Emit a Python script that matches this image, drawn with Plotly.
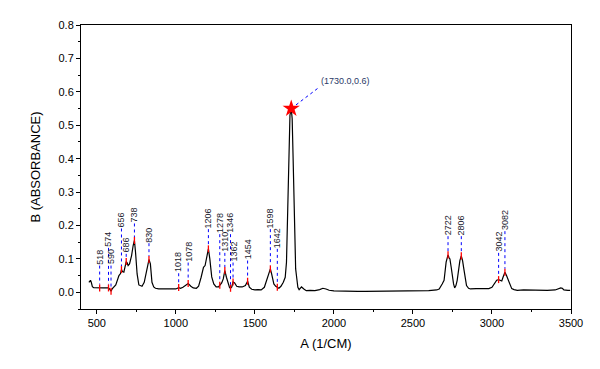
import numpy as np
import plotly.graph_objects as go

# ---------------- data ----------------
wavenumber = [450, 455, 460, 465, 472, 480, 500, 518, 540, 560, 574, 584, 590, 597, 610, 620,
              640, 650, 656, 662, 671, 680, 686, 692, 698, 707, 720, 730, 738, 745, 755, 766,
              786, 800, 815, 822, 830, 839, 849, 860, 871, 892, 950, 1000, 1018, 1030, 1045,
              1060, 1078, 1095, 1110, 1130, 1144, 1160, 1175, 1185, 1195, 1206, 1215, 1227,
              1240, 1255, 1270, 1278, 1290, 1300, 1310, 1320, 1330, 1340, 1346, 1354, 1362,
              1372, 1385, 1400, 1420, 1440, 1454, 1465, 1480, 1500, 1520, 1540, 1560, 1575,
              1590, 1598, 1606, 1620, 1632, 1642, 1652, 1665, 1680, 1692, 1700, 1708, 1716,
              1722, 1730, 1736, 1742, 1750, 1758, 1765, 1772, 1780, 1795, 1810, 1825, 1850,
              1880, 1910, 1930, 1950, 1970, 2000, 2050, 2100, 2150, 2200, 2300, 2400, 2500,
              2600, 2650, 2666, 2685, 2697, 2710, 2716, 2722, 2728, 2734, 2742, 2749, 2757,
              2764, 2772, 2780, 2790, 2797, 2806, 2814, 2822, 2830, 2839, 2852, 2864, 2900,
              2950, 2980, 3000, 3015, 3030, 3042, 3052, 3062, 3070, 3082, 3092, 3103, 3115,
              3125, 3140, 3160, 3200, 3250, 3300, 3350, 3400, 3420, 3435, 3445, 3455, 3480,
              3495]
absorbance = [0.030, 0.034, 0.036, 0.030, 0.017, 0.014, 0.013, 0.013, 0.013, 0.013, 0.013,
              0.008, 0.003, 0.010, 0.018, 0.022, 0.050, 0.056, 0.068, 0.062, 0.060, 0.075,
              0.092, 0.088, 0.080, 0.085, 0.110, 0.140, 0.155, 0.120, 0.055, 0.022, 0.018,
              0.030, 0.070, 0.088, 0.098, 0.085, 0.030, 0.016, 0.012, 0.010, 0.010, 0.010,
              0.014, 0.012, 0.015, 0.020, 0.026, 0.018, 0.013, 0.012, 0.018, 0.045, 0.075,
              0.080, 0.105, 0.130, 0.100, 0.046, 0.025, 0.016, 0.016, 0.021, 0.028, 0.040,
              0.065, 0.045, 0.025, 0.014, 0.012, 0.016, 0.031, 0.028, 0.018, 0.016, 0.016,
              0.020, 0.033, 0.015, 0.009, 0.007, 0.008, 0.007, 0.015, 0.035, 0.060, 0.070,
              0.055, 0.025, 0.018, 0.015, 0.012, 0.018, 0.030, 0.045, 0.090, 0.250, 0.450,
              0.530, 0.550, 0.520, 0.400, 0.200, 0.070, 0.042, 0.015, 0.008, 0.016, 0.010,
              0.005, 0.006, 0.005, 0.008, 0.012, 0.010, 0.006, 0.004, 0.003, 0.002, 0.003,
              0.003, 0.003, 0.004, 0.004, 0.005, 0.007, 0.010, 0.025, 0.036, 0.090, 0.105,
              0.112, 0.104, 0.100, 0.075, 0.046, 0.025, 0.013, 0.020, 0.036, 0.070, 0.095,
              0.109, 0.095, 0.070, 0.040, 0.020, 0.012, 0.010, 0.011, 0.011, 0.011, 0.015,
              0.025, 0.036, 0.038, 0.036, 0.034, 0.045, 0.060, 0.050, 0.036, 0.020, 0.011,
              0.008, 0.006, 0.007, 0.006, 0.006, 0.006, 0.007, 0.010, 0.013, 0.012, 0.007,
              0.006, 0.006]

peak_wn = [518, 574, 590, 656, 686, 738, 830, 1018, 1078, 1206, 1278, 1310, 1346, 1362,
           1454, 1598, 1642, 2722, 2806, 3042, 3082]
# height (absorbance units) of the bottom of each rotated peak label
label_base = [0.080, 0.133, 0.080, 0.191, 0.115, 0.206, 0.147, 0.057, 0.089, 0.189, 0.174,
              0.118, 0.174, 0.089, 0.095, 0.189, 0.130, 0.168, 0.168, 0.118, 0.183]

max_wn = 1730.0
max_ab = 0.55

# ---------------- figure ----------------
FONT = "Liberation Sans, Arial, sans-serif"
peak_y = np.interp(peak_wn, wavenumber, absorbance)
half = 0.0105

fig = go.Figure()

fig.add_trace(go.Scatter(x=wavenumber, y=absorbance, mode="lines",
                         line=dict(color="black", width=1.2), hoverinfo="skip"))

# blue dotted drop lines
dx, dy = [], []
for xv, py, lb in zip(peak_wn, peak_y, label_base):
    dx += [xv, xv, None]
    dy += [lb, py + half, None]
fig.add_trace(go.Scatter(x=dx, y=dy, mode="lines",
                         line=dict(color="#0000ff", width=1, dash="dot"), hoverinfo="skip"))

# red peak ticks
rx, ry = [], []
for xv, py in zip(peak_wn, peak_y):
    rx += [xv, xv, None]
    ry += [py - half, py + half, None]
fig.add_trace(go.Scatter(x=rx, y=ry, mode="lines",
                         line=dict(color="#ff0000", width=1.3), hoverinfo="skip"))

# max point annotation line + star
fig.add_trace(go.Scatter(x=[max_wn, max_wn + 175], y=[max_ab, max_ab + 0.063], mode="lines",
                         line=dict(color="#0000ff", width=1, dash="dot"), hoverinfo="skip"))
fig.add_trace(go.Scatter(x=[max_wn], y=[max_ab], mode="markers",
                         marker=dict(symbol="star", size=13, color="#ff0000",
                                     line=dict(width=0)), hoverinfo="skip"))

for xv, lb in zip(peak_wn, label_base):
    fig.add_annotation(x=xv, y=lb, text=str(xv), textangle=-90, showarrow=False,
                       xanchor="center", yanchor="bottom", borderpad=0,
                       font=dict(family=FONT, size=9, color="#1a1a2e"))

fig.add_annotation(x=max_wn + 182, y=max_ab + 0.083,
                   text=f"({max_wn:.1f},{max_ab:.1f})", showarrow=False,
                   xanchor="left", yanchor="middle", borderpad=0,
                   font=dict(family=FONT, size=9, color="#2b3a67"))

axis_common = dict(showline=True, linecolor="black", linewidth=1, mirror=True,
                   ticks="outside", ticklen=4, tickwidth=1, tickcolor="black",
                   showgrid=False, zeroline=False,
                   tickfont=dict(family=FONT, size=11, color="black"))

fig.update_xaxes(range=[400, 3500], dtick=500, tick0=0,
                 minor=dict(ticks="outside", ticklen=2, dtick=250, tickcolor="black"),
                 title=dict(text="A (1/CM)", font=dict(family=FONT, size=13, color="black"),
                            standoff=10),
                 **axis_common)
fig.update_yaxes(range=[-0.05, 0.8], dtick=0.1, tick0=0, tickformat=".1f",
                 minor=dict(ticks="outside", ticklen=2, dtick=0.05, tickcolor="black"),
                 title=dict(text="B (ABSORBANCE)", font=dict(family=FONT, size=13, color="black"),
                            standoff=14),
                 **axis_common)

fig.update_layout(width=592, height=361, showlegend=False,
                  margin=dict(l=73, r=29, t=11, b=60),
                  paper_bgcolor="white", plot_bgcolor="white")

fig.write_html("out.html")
